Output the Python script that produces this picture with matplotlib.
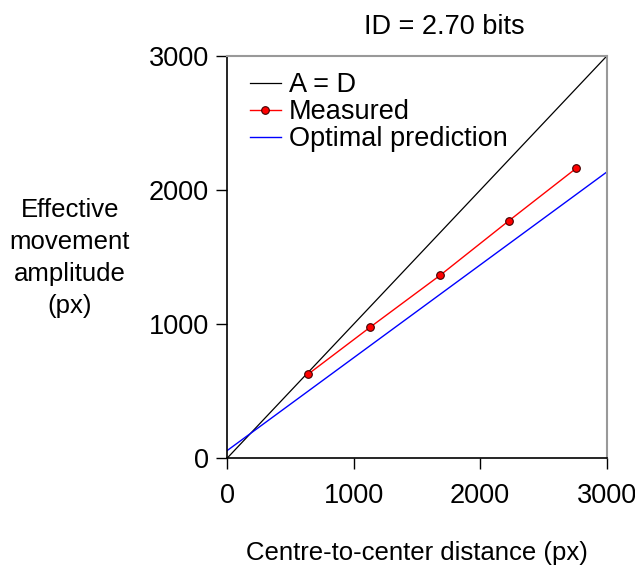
import matplotlib.pyplot as plt
import numpy as np

plt.rcParams['font.family'] = ['Liberation Sans', 'DejaVu Sans']

# data
distance = [640, 1131, 1685, 2226, 2760]
amplitude = [627, 978, 1366, 1771, 2164]
line_x = [0, 3000]
identity_y = [0, 3000]
optimal_y = [57, 2135]

fs = 19.5
fs_lab = 18.5

fig = plt.figure(figsize=(6.35, 5.65), dpi=100)
ax = fig.add_axes([0.3575, 0.1888, 0.598, 0.712])

ax.plot(line_x, identity_y, color='black', lw=0.9, label='A = D')
ax.plot(distance, amplitude, color='red', lw=1.0, marker='o', ms=5.5,
        mfc='red', mec='#400000', mew=0.8, label='Measured')
ax.plot(line_x, optimal_y, color='blue', lw=1.0, label='Optimal prediction')

ax.set_xlim(0, 3000)
ax.set_ylim(0, 3000)
ax.set_xticks([0, 1000, 2000, 3000])
ax.set_yticks([0, 1000, 2000, 3000])
ax.tick_params(direction='out', length=8, width=1, labelsize=fs, pad=5)
ax.tick_params(axis='x', pad=10)

for s in ['left', 'bottom']:
    ax.spines[s].set_color('black')
    ax.spines[s].set_linewidth(1.2)
for s in ['top', 'right']:
    ax.spines[s].set_color('#999999')
    ax.spines[s].set_linewidth(1.5)

ax.legend(loc='upper left', bbox_to_anchor=(0.06, 0.96), frameon=False,
          fontsize=fs, handlelength=1.15, handletextpad=0.28,
          labelspacing=0.04, borderpad=0, borderaxespad=0)

fig.text(0.70, 0.952, 'ID = 2.70 bits', fontsize=fs, ha='center', va='center')
fig.text(0.110, 0.543, 'Effective\nmovement\namplitude\n(px)', fontsize=fs_lab,
         ha='center', va='center', linespacing=1.42)
ax.set_xlabel('Centre-to-center distance (px)', fontsize=fs_lab, labelpad=23)

fig.savefig('out.png', dpi=100)
